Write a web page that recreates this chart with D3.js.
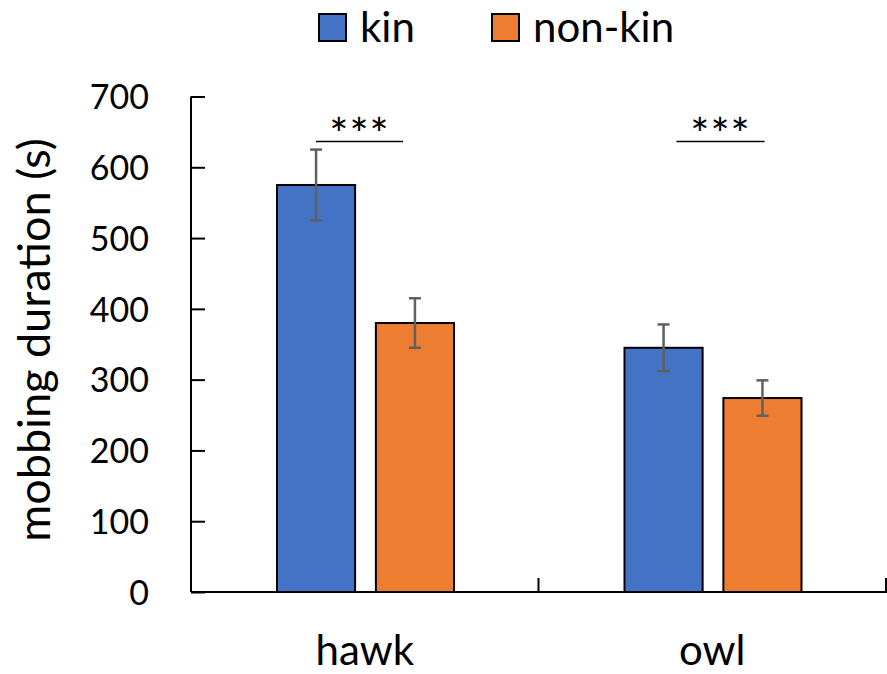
<!DOCTYPE html>
<html lang="en">
<head><meta charset="utf-8"><title>mobbing duration</title>
<style>
  body { margin: 0; background: #fff; }
  text { font-family: Lato, "Noto Sans", sans-serif; fill: #000; }
</style>
</head>
<body>
<svg width="887" height="674"></svg>
<script src="https://cdn.jsdelivr.net/npm/d3@7"></script>
<script>
// chart data
var predators = ["hawk", "owl"];
var groups = ["kin", "non-kin"];
var kinMean = [575, 345];
var kinErr = [50, 33];
var nonKinMean = [380, 274];
var nonKinErr = [35, 25];
var yTicks = [0, 100, 200, 300, 400, 500, 600, 700];
var sigLabels = ["***", "***"];
var colors = ["#4472C4", "#ED7D31"];

var svg = d3.select("svg");

// plot area edges (note: "top" is reserved on window, so use other names)
var plotLeft = 191, plotRight = 886, plotTop = 96.5, plotBottom = 592;

var x = d3.scaleBand().domain(predators).range([plotLeft, plotRight]);
var xg = d3.scaleBand().domain(groups).range([86, 263]).paddingInner(0.21);
var y = d3.scaleLinear().domain([0, 700]).range([plotBottom, plotTop]);

// flat rows for drawing
var rows = [];
predators.forEach(function(p, i) {
    rows.push({ pred: p, group: "kin", v: kinMean[i], e: kinErr[i] });
    rows.push({ pred: p, group: "non-kin", v: nonKinMean[i], e: nonKinErr[i] });
});
var color = d3.scaleOrdinal().domain(groups).range(colors);

// bars
svg.append("g").selectAll("rect").data(rows).enter().append("rect")
    .attr("x", function(d) { return x(d.pred) + xg(d.group); })
    .attr("y", function(d) { return y(d.v); })
    .attr("width", xg.bandwidth())
    .attr("height", function(d) { return y(0) - y(d.v); })
    .attr("fill", function(d) { return color(d.group); })
    .attr("stroke", "#000")
    .attr("stroke-width", 2);

// error bars
var eb = svg.append("g").attr("stroke", "#606060").attr("stroke-width", 2.5);
rows.forEach(function(d) {
    var cx = x(d.pred) + xg(d.group) + xg.bandwidth() / 2;
    eb.append("line").attr("x1", cx).attr("x2", cx)
        .attr("y1", y(d.v + d.e)).attr("y2", y(d.v - d.e));
    [d.v + d.e, d.v - d.e].forEach(function(v) {
        eb.append("line").attr("x1", cx - 6).attr("x2", cx + 6)
            .attr("y1", y(v)).attr("y2", y(v));
    });
});

// y axis
var yAxis = svg.append("g").attr("transform", "translate(" + plotLeft + ",0)")
    .call(d3.axisLeft(y).tickValues(yTicks).tickSize(-14).tickPadding(42));
yAxis.select(".domain").attr("stroke", "#000").attr("stroke-width", 2)
    .attr("d", "M0," + y(700) + "V" + y(0));
yAxis.selectAll(".tick line").attr("stroke", "#000").attr("stroke-width", 2);
yAxis.selectAll(".tick text").attr("font-size", 34).attr("font-family", "Lato")
    .attr("fill", "#000").attr("dy", "0.36em");

// x axis
var xAxis = svg.append("g").attr("transform", "translate(0," + plotBottom + ")");
xAxis.append("line").attr("x1", plotLeft).attr("x2", plotRight + 1)
    .attr("stroke", "#000").attr("stroke-width", 2);
predators.forEach(function(p) {
    xAxis.append("line").attr("x1", x(p) + x.bandwidth()).attr("x2", x(p) + x.bandwidth())
        .attr("y1", 0).attr("y2", -14).attr("stroke", "#000").attr("stroke-width", 2);
    xAxis.append("text").attr("x", x(p) + x.bandwidth() / 2).attr("y", 73)
        .attr("text-anchor", "middle").attr("font-size", 42).text(p);
});

// axis title
svg.append("text")
    .attr("transform", "translate(50,340) rotate(-90)")
    .attr("text-anchor", "middle").attr("font-size", 45)
    .text("mobbing duration (s)");

// significance markers
var sigSpan = [[125, 212], [138, 226]];
predators.forEach(function(p, i) {
    var x1 = x(p) + sigSpan[i][0], x2 = x(p) + sigSpan[i][1];
    svg.append("line").attr("x1", x1).attr("x2", x2)
        .attr("y1", 141.5).attr("y2", 141.5)
        .attr("stroke", "#000").attr("stroke-width", 1.5);
    svg.append("text").attr("x", (x1 + x2) / 2).attr("y", 150)
        .attr("text-anchor", "middle").attr("font-size", 45)
        .attr("font-family", "DejaVu Sans")
        .attr("letter-spacing", 1).text(sigLabels[i]);
});

// legend
var legendX = [319, 492];
groups.forEach(function(g, i) {
    var lg = svg.append("g").attr("transform", "translate(" + legendX[i] + ",14)");
    lg.append("rect").attr("width", 27).attr("height", 27)
        .attr("fill", colors[i]).attr("stroke", "#000").attr("stroke-width", 2);
    lg.append("text").attr("x", 41).attr("y", 28).attr("font-size", 42).text(g);
});
</script>
</body>
</html>
